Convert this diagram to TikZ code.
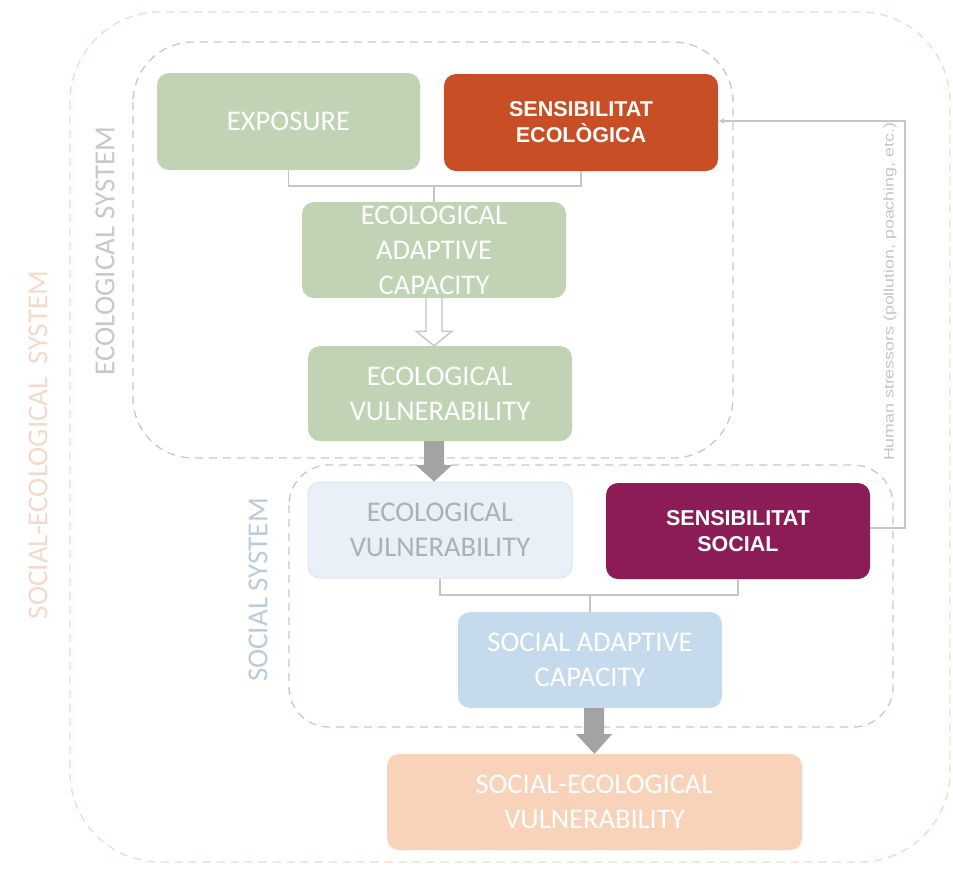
\documentclass[tikz,border=0pt]{standalone}
\usepackage{fontspec}
\setmainfont{Carlito}
\newfontfamily\arialfont{Liberation Sans}
\usetikzlibrary{calc,arrows.meta}
\definecolor{outerc}{HTML}{F3DACB}
\definecolor{ecoc}{HTML}{C8C8C8}
\definecolor{socc}{HTML}{BCCBDB}
\definecolor{greenbox}{HTML}{C1D3B5}
\definecolor{sensEco}{HTML}{C84F25}
\definecolor{sensSoc}{HTML}{8B1C55}
\definecolor{bluelight}{HTML}{EAF0F7}
\definecolor{blueborder}{HTML}{DDE5EE}
\definecolor{bluebox}{HTML}{C6DAEE}
\definecolor{peach}{HTML}{F8D3BA}
\definecolor{conn}{HTML}{C6C6C6}
\definecolor{thickarrow}{HTML}{A3A3A3}
\definecolor{bluetext}{HTML}{A9B1BA}
\begin{document}
\begin{tikzpicture}[x=1pt,y=-1pt,
  boxbase/.style={rounded corners=12pt, align=center, inner sep=0pt},
  greenb/.style={boxbase, fill=greenbox, text=white, font=\fontsize{28.5}{35}\selectfont},
  sensb/.style={boxbase, text=white, font=\arialfont\bfseries\fontsize{21.5}{26}\selectfont},
  connline/.style={draw=conn, line width=1.6pt},
  syslabel/.style={rotate=90, font=\fontsize{29}{32}\selectfont}
]
\useasboundingbox (0,0) rectangle (953,868);
\fill[white] (0,0) rectangle (953,868);

% system frames
\draw[outerc, dashed, dash pattern=on 8pt off 6pt, line width=1.3pt, rounded corners=90pt] (70,12) rectangle (950,862);
\draw[ecoc, dashed, dash pattern=on 8pt off 6pt, line width=1.3pt, rounded corners=60pt] (133,42) rectangle (733,458);
\draw[socc, dashed, dash pattern=on 8pt off 6pt, line width=1.3pt, rounded corners=40pt] (289,465) rectangle (893,727);

\node[syslabel, text=outerc] (lse) at (38,445) {SOCIAL-ECOLOGICAL\ \ SYSTEM};
\node[syslabel, text=ecoc] (les) at (105,251) {ECOLOGICAL SYSTEM};
\node[syslabel, text=socc] (lss) at (258,590) {SOCIAL SYSTEM};

% boxes
\node[greenb, minimum width=263pt, minimum height=97pt] (exp) at (288.5,121.5) {EXPOSURE};
\node[sensb, fill=sensEco, minimum width=274pt, minimum height=97pt] (se) at (581,122.5) {SENSIBILITAT\\ECOLÒGICA};
\node[greenb, minimum width=264pt, minimum height=96pt] (eac) at (434,250) {ECOLOGICAL\\ADAPTIVE\\CAPACITY};
\node[greenb, minimum width=264pt, minimum height=95pt] (ev1) at (440,393.5) {ECOLOGICAL\\VULNERABILITY};
\node[boxbase, fill=bluelight, draw=blueborder, line width=1pt, text=bluetext, font=\fontsize{28.5}{35}\selectfont, minimum width=264pt, minimum height=96pt] (ev2) at (440,530) {ECOLOGICAL\\VULNERABILITY};
\node[sensb, fill=sensSoc, minimum width=264pt, minimum height=96pt] (ss) at (738,531) {SENSIBILITAT\\SOCIAL};
\node[greenb, fill=bluebox, minimum width=264pt, minimum height=96pt] (sac) at (590,660) {SOCIAL ADAPTIVE\\CAPACITY};
\node[greenb, fill=peach, minimum width=415pt, minimum height=96pt] (sev) at (594.5,802) {SOCIAL-ECOLOGICAL\\VULNERABILITY};

% bracket connectors
\coordinate (j1) at (434,186);
\draw[connline] (exp.south) |- (j1) -| (se.south);
\draw[connline] (j1) -- (eac.north);
\coordinate (j2) at (590,595);
\draw[connline] (ev2.south) |- (j2) -| (ss.south);
\draw[connline] (j2) -- (sac.north);

% hollow arrow
\draw[conn, line width=1.4pt, fill=white, line join=miter]
  ($(eac.south)+(-8,0)$) -- ($(eac.south)+(-8,33)$) -- ($(eac.south)+(-18,33)$)
  -- ($(ev1.north)+(-6,0)$) -- ($(eac.south)+(18,33)$) -- ($(eac.south)+(8,33)$)
  -- ($(eac.south)+(8,0)$);

% thick gray arrows
\coordinate (a1) at ($(ev1.south)+(-6,0)$);
\coordinate (a1t) at ($(ev2.north)+(-6,0)$);
\fill[thickarrow] ($(a1)+(-10,0)$) -- ($(a1)+(-10,24)$) -- ($(a1)+(-18,24)$) -- (a1t)
  -- ($(a1)+(18,24)$) -- ($(a1)+(10,24)$) -- ($(a1)+(10,0)$) -- cycle;
\coordinate (a2) at ($(sac.south)+(4,0)$);
\coordinate (a2t) at (sev.north);
\fill[thickarrow] ($(a2)+(-10,0)$) -- ($(a2)+(-10,26)$) -- ($(a2)+(-18,26)$) -- (a2t)
  -- ($(a2)+(18,26)$) -- ($(a2)+(10,26)$) -- ($(a2)+(10,0)$) -- cycle;

% human stressors feedback
\coordinate (hs1) at (905,528);
\coordinate (hs2) at (905,121);
\draw[conn, line width=1.4pt, -{Latex[length=6pt,width=6pt]}] (ss.east |- hs1) -- (hs1) -- (hs2) -- (se.east |- hs2);
\node[rotate=90, text=conn, font=\arialfont\fontsize{14}{15}\selectfont] (hst) at (890,292) {\scalebox{1.27}[1]{Human stressors (pollution, poaching, etc.)}};
\end{tikzpicture}
\end{document}
